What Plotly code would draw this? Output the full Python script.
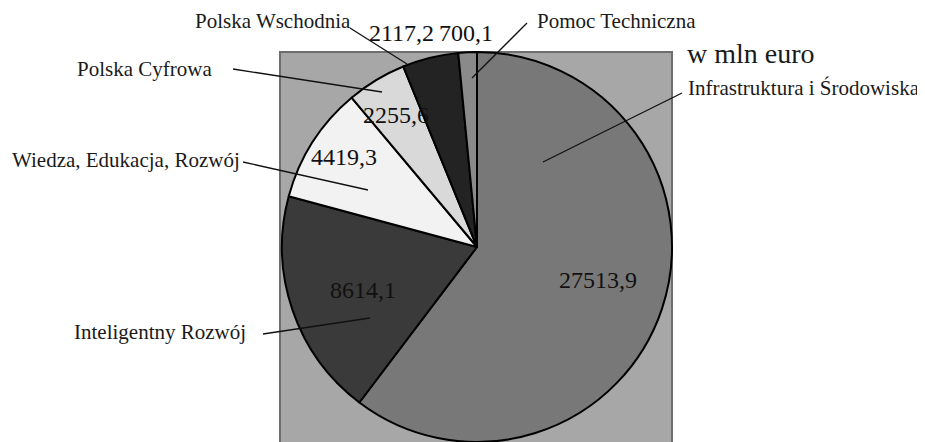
import plotly.graph_objects as go

# ---- data ----
categories = [
    "Infrastruktura i Środowiska",
    "Inteligentny Rozwój",
    "Wiedza, Edukacja, Rozwój",
    "Polska Cyfrowa",
    "Polska Wschodnia",
    "Pomoc Techniczna",
]
values = [27513.9, 8614.1, 4419.3, 2255.6, 2117.2, 700.1]
unit_label = "w mln euro"

# ---- styles ----
slice_colors = ["#787878", "#3a3a3a", "#f2f2f2", "#d9d9d9", "#232323", "#8a8a8a"]
OFF = 8  # default page body margin
W, H = 925 - OFF, 442 - OFF
FONT = "Liberation Serif, Times New Roman, serif"

# layout positions in window pixels (label anchor x, label center y, leader start, leader end)
cat_layout = [
    dict(x=686, y=88, line=((682, 93), (543, 162))),
    dict(x=72, y=332, line=((263, 334), (370, 318))),
    dict(x=10, y=160, line=((243, 162), (368, 190))),
    dict(x=75, y=69, line=((233, 69), (382, 92))),
    dict(x=193, y=21, line=((350, 28), (407, 64))),
    dict(x=535, y=21, line=((527, 23), (472, 78))),
]
val_layout = [(598, 280), (363, 290), (344, 157), (396, 115), (401, 33), (466, 33)]

cx, cy, R = 477, 247, 195


def px(x):
    return (x - OFF) / W


def py(y):
    return 1 - (y - OFF) / H


fig = go.Figure()
fig.add_trace(go.Pie(
    labels=categories,
    values=values,
    sort=False,
    direction="clockwise",
    rotation=0,
    textinfo="none",
    hoverinfo="label+value",
    marker=dict(colors=slice_colors, line=dict(color="#000000", width=2)),
    domain=dict(x=[px(cx - R), px(cx + R)], y=[max(0.0, py(cy + R)), py(cy - R)]),
    showlegend=False,
))

shapes = [dict(
    type="rect", xref="paper", yref="paper", layer="below",
    x0=px(280), x1=px(672), y0=-0.05, y1=py(52),
    fillcolor="#a7a7a7", line=dict(color="#6e6e6e", width=2),
)]

annotations = []
for name, lay in zip(categories, cat_layout):
    annotations.append(dict(
        text=name, x=px(lay["x"]), y=py(lay["y"]), xref="paper", yref="paper",
        xanchor="left", yanchor="middle", showarrow=False,
        font=dict(family=FONT, size=21, color="#1a1a1a"),
    ))
    (x0, y0), (x1, y1) = lay["line"]
    shapes.append(dict(
        type="line", xref="paper", yref="paper",
        x0=px(x0), y0=py(y0), x1=px(x1), y1=py(y1),
        line=dict(color="#111111", width=1.3),
    ))

for v, (x, y) in zip(values, val_layout):
    annotations.append(dict(
        text=f"{v:.1f}".replace(".", ","), x=px(x), y=py(y),
        xref="paper", yref="paper", xanchor="center", yanchor="middle",
        showarrow=False, font=dict(family=FONT, size=24, color="#111111"),
    ))

annotations.append(dict(
    text=unit_label, x=px(685), y=py(54), xref="paper", yref="paper",
    xanchor="left", yanchor="middle", showarrow=False,
    font=dict(family=FONT, size=28, color="#1a1a1a"),
))

fig.update_layout(
    width=W, height=H,
    margin=dict(l=0, r=0, t=0, b=0),
    paper_bgcolor="#ffffff",
    plot_bgcolor="#ffffff",
    shapes=shapes,
    annotations=annotations,
)

fig.write_html("out.html", config={"displayModeBar": False})
